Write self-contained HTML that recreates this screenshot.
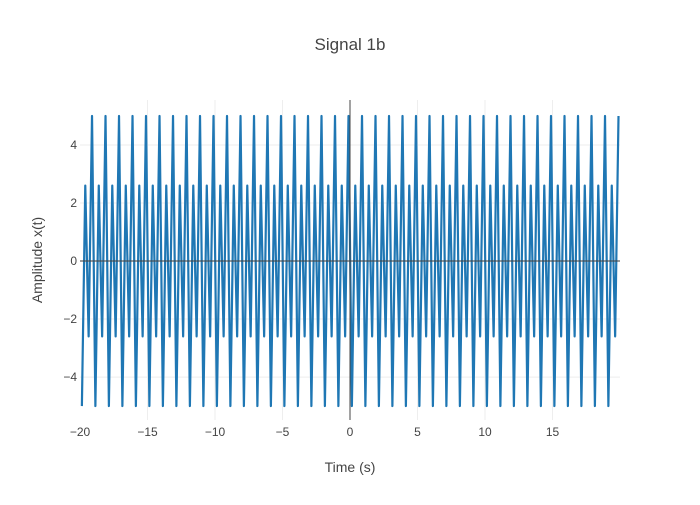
<!DOCTYPE html>
<html><head><meta charset="utf-8"><style>
body{margin:0;background:#fff;font-family:"Liberation Sans",sans-serif}
</style></head><body>
<svg id="chart" width="700" height="500" xmlns="http://www.w3.org/2000/svg">
<rect width="700" height="500" fill="#fff"/>
<text x="350" y="50" text-anchor="middle" font-size="17" fill="#444">Signal 1b</text>
<g id="grid"></g>
<g id="series"></g>
<g id="axes"></g>
<text x="350" y="472" text-anchor="middle" font-size="14" fill="#444">Time (s)</text>
<text transform="translate(42,260) rotate(-90)" text-anchor="middle" font-size="14" fill="#444">Amplitude x(t)</text>
</svg>
<script>
const xTicks=[-20,-15,-10,-5,0,5,10,15];
const yTicks=[-4,-2,0,2,4];
const cyclePhase=[0,0.25,0.5,0.75];
const cycleValue=[5,-5,2.6,-2.6];
const cyclePeriod=1.0;
const firstPeak=-20.11;
const tStart=-20, tEnd=19.9;
const X0=80,X1=620,Y0=100,Y1=420;
const xMin=-20,xMax=20,yMin=-5.48,yMax=5.55;
const sx=t=>X0+(t-xMin)/(xMax-xMin)*(X1-X0);
const sy=v=>Y1-(v-yMin)/(yMax-yMin)*(Y1-Y0);
const NS="http://www.w3.org/2000/svg";
const grid=document.getElementById('grid'),axes=document.getElementById('axes'),series=document.getElementById('series');
function mk(tag,attrs,parent){const e=document.createElementNS(NS,tag);for(const k in attrs)e.setAttribute(k,attrs[k]);parent.appendChild(e);return e;}
xTicks.forEach(t=>{
  if(t!==0&&t!==xMin){const l=mk('line',{x1:sx(t),x2:sx(t),y1:Y0,y2:Y1,stroke:'#eee','stroke-width':1},grid);
  
  }
  const tx=mk('text',{x:sx(t),y:Y1+16,'text-anchor':'middle','font-size':12,fill:'#444'},axes);
  tx.textContent=(t<0?'\u2212'+(-t):t);
  
  
});
yTicks.forEach(v=>{
  if(v!==0){const l=mk('line',{x1:X0,x2:X1,y1:sy(v),y2:sy(v),stroke:'#eee','stroke-width':1},grid);
  
  }
  const tx=mk('text',{x:X0-3,y:sy(v)+4,'text-anchor':'end','font-size':12,fill:'#444'},axes);
  tx.textContent=(v<0?'\u2212'+(-v):v);
  
  
});
const pts=[];
for(let k=0;;k++){
  const base=firstPeak+k*cyclePeriod;
  if(base>tEnd)break;
  for(let i=0;i<cyclePhase.length;i++){
    const t=base+cyclePhase[i]*cyclePeriod;
    if(t>=tStart&&t<=tEnd)pts.push([t,cycleValue[i]]);
  }
}
const p=mk('polyline',{points:pts.map(q=>sx(q[0]).toFixed(2)+','+sy(q[1]).toFixed(2)).join(' '),fill:'none',stroke:'#1f77b4','stroke-width':2.2,'stroke-linejoin':'round'},series);


const zx=mk('line',{x1:sx(0),x2:sx(0),y1:Y0,y2:Y1,stroke:'#444','stroke-width':1},axes);


const zy=mk('line',{x1:X0,x2:X1,y1:sy(0),y2:sy(0),stroke:'#444','stroke-width':1.5,opacity:0.7},axes);


</script>
</body></html>
